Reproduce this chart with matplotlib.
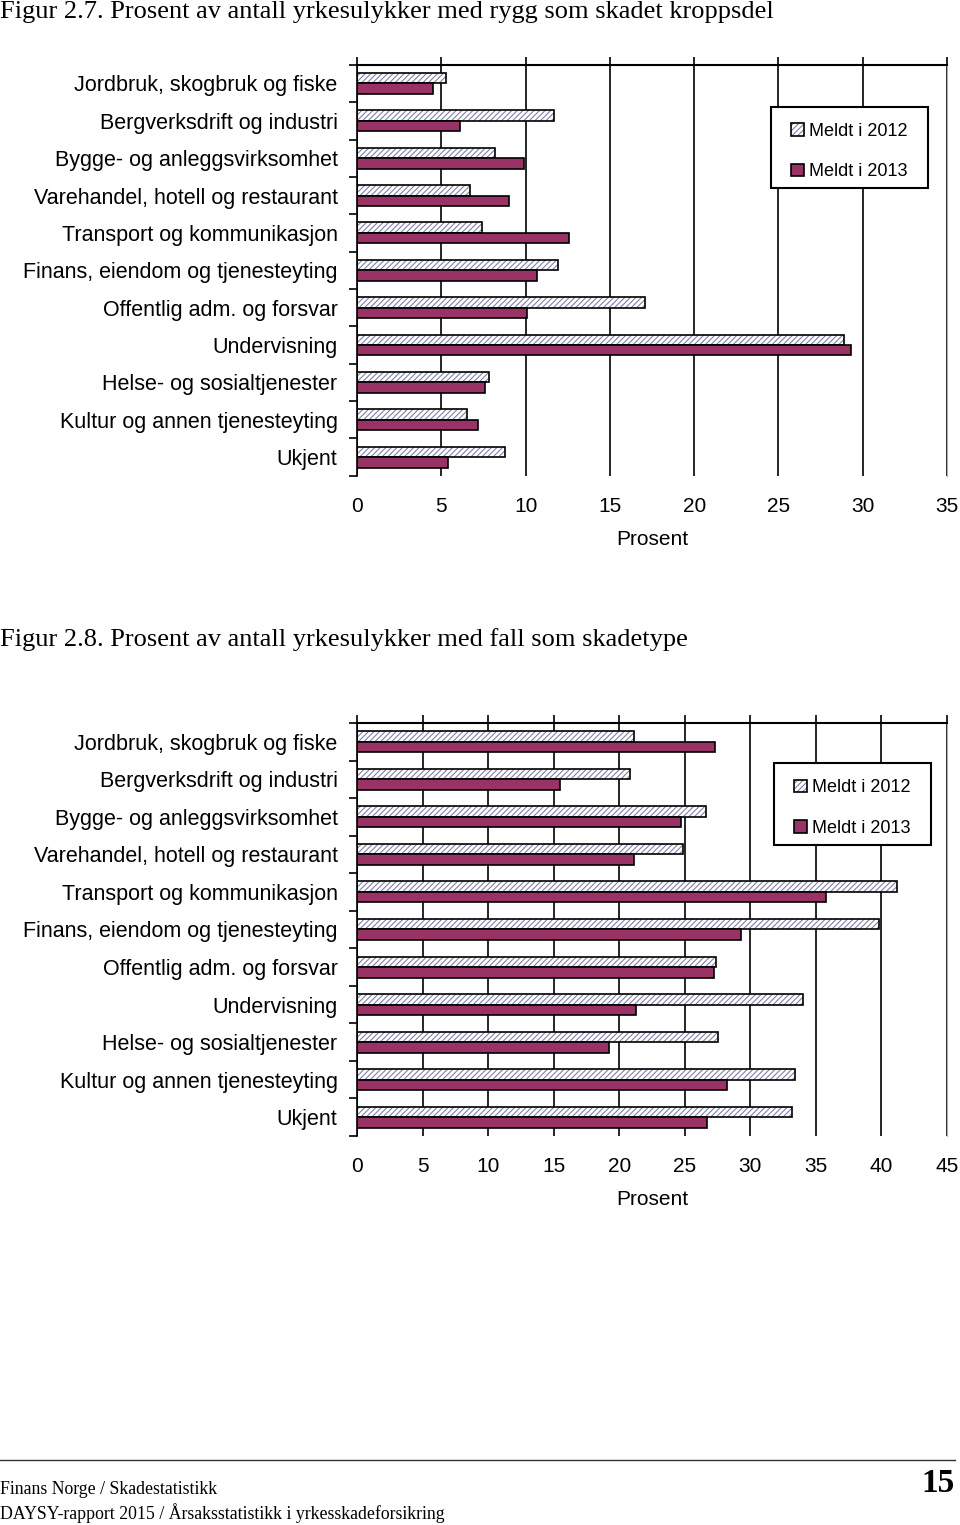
import matplotlib.pyplot as plt
import numpy as np
from matplotlib.lines import Line2D
from matplotlib.patches import Rectangle

plt.rcParams['font.family'] = ['Liberation Sans', 'DejaVu Sans']
plt.rcParams['hatch.linewidth'] = 0.8

categories = ["Jordbruk, skogbruk og fiske", "Bergverksdrift og industri",
              "Bygge- og anleggsvirksomhet", "Varehandel, hotell og restaurant",
              "Transport og kommunikasjon", "Finans, eiendom og tjenesteyting",
              "Offentlig adm. og forsvar", "Undervisning", "Helse- og sosialtjenester",
              "Kultur og annen tjenesteyting", "Ukjent"]
series_names = ["Meldt i 2012", "Meldt i 2013"]

# Figur 2.7 - rygg
rygg_2012 = [5.3, 11.7, 8.2, 6.7, 7.4, 11.9, 17.1, 28.9, 7.8, 6.5, 8.8]
rygg_2013 = [4.5, 6.1, 9.9, 9.0, 12.6, 10.7, 10.1, 29.3, 7.6, 7.2, 5.4]
rygg_ticks = [0, 5, 10, 15, 20, 25, 30, 35]

# Figur 2.8 - fall
fall_2012 = [21.1, 20.8, 26.6, 24.9, 41.2, 39.8, 27.4, 34.0, 27.5, 33.4, 33.2]
fall_2013 = [27.3, 15.5, 24.7, 21.1, 35.8, 29.3, 27.2, 21.3, 19.2, 28.2, 26.7]
fall_ticks = [0, 5, 10, 15, 20, 25, 30, 35, 40, 45]

titles = ["Figur 2.7. Prosent av antall yrkesulykker med rygg som skadet kroppsdel",
          "Figur 2.8. Prosent av antall yrkesulykker med fall som skadetype"]

HATCH_COL = '#8080aa'
PLUM = '#993366'


def draw_chart(ax, v2012, v2013, ticks, legend_box):
    y = np.arange(len(categories))
    h = 0.28
    ax.set_axisbelow(True)
    ax.grid(axis='x', color='black', linewidth=1.2)
    hb = ax.barh(y - h / 2, v2012, height=h, color='white', hatch='//////',
                 edgecolor=HATCH_COL, linewidth=0)
    ob = ax.barh(y - h / 2, v2012, height=h, fill=False, edgecolor='black', linewidth=1.2)
    b2 = ax.barh(y + h / 2, v2013, height=h, color=PLUM, edgecolor='black', linewidth=1.2)

    ax.set_ylim(len(categories) - 0.5, -0.5)
    ax.set_xlim(ticks[0], ticks[-1])
    ax.set_xticks(ticks)
    # small ticks poke out above the top line, labels stay at the bottom
    ax.tick_params(axis='x', top=True, bottom=False, labeltop=False, labelbottom=True,
                   length=6, width=1.2, direction='out', pad=9, labelsize=15)
    ax.set_yticks(np.arange(len(categories) + 1) - 0.5)
    ax.set_yticklabels([])
    ax.tick_params(axis='y', which='major', length=6, width=1.2, direction='out')
    ax.set_yticks(y, minor=True)
    ax.set_yticklabels(categories, minor=True)
    ax.tick_params(axis='y', which='minor', length=0, pad=14, labelsize=15.5)
    ax.set_xlabel("Prosent", fontsize=15, labelpad=10)

    ax.spines['bottom'].set_visible(False)
    ax.spines['left'].set_linewidth(1.2)
    ax.spines['top'].set_linewidth(1.5)
    ax.spines['right'].set_color('#b0b0b0')

    # legend box drawn by hand so its padding matches the original
    x0, y0, x1, y1 = legend_box
    ax.add_patch(Rectangle((x0, y0), x1 - x0, y1 - y0, transform=ax.transAxes,
                           facecolor='white', edgecolor='black', linewidth=1.5,
                           zorder=4.5, clip_on=False))
    ax.legend([(hb, ob), b2], series_names, loc='center',
              bbox_to_anchor=((x0 + x1) / 2, (y0 + y1) / 2 - 0.01), fontsize=13,
              frameon=False, handlelength=0.7, handleheight=0.7, handletextpad=0.3,
              labelspacing=1.29, borderpad=0, borderaxespad=0)


fig = plt.figure(figsize=(9.6, 15.25), dpi=100)

ax1 = fig.add_axes([0.3719, 0.688, 0.6146, 0.2695])
draw_chart(ax1, rygg_2012, rygg_2013, rygg_ticks, (0.7017, 0.700, 0.9678, 0.897))

ax2 = fig.add_axes([0.3719, 0.2551, 0.6146, 0.2708])
draw_chart(ax2, fall_2012, fall_2013, fall_ticks, (0.7068, 0.7046, 0.9729, 0.9031))

fig.text(0.0, 1 - 12 / 1525, titles[0], family='Liberation Serif', fontsize=19, va='center')
fig.text(0.0, 1 - 640 / 1525, titles[1], family='Liberation Serif', fontsize=19, va='center')

# footer
fig.add_artist(Line2D([0, 955 / 960], [1 - 1460 / 1525] * 2, color='#333333', linewidth=1))
fig.text(0.0, 1 - 1490 / 1525, "Finans Norge / Skadestatistikk",
         family='Liberation Serif', fontsize=12.8, va='center')
fig.text(0.0, 1 - 1513 / 1525, "DAYSY-rapport 2015 / Årsaksstatistikk i yrkesskadeforsikring",
         family='Liberation Serif', fontsize=12.8, va='center')
fig.text(955 / 960, 1 - 1483 / 1525, "15", family='Liberation Serif', fontsize=24,
         fontweight='bold', ha='right', va='center')

fig.savefig("out.png", dpi=100)
